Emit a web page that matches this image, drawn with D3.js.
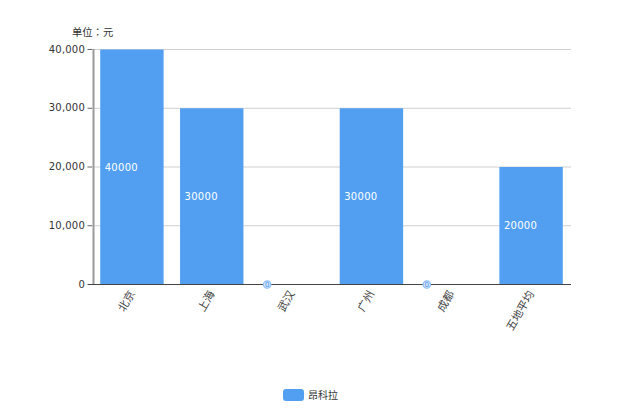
<!DOCTYPE html>
<html><head><meta charset="utf-8">
<script src="https://cdnjs.cloudflare.com/ajax/libs/d3/7.8.5/d3.min.js"></script>
<style>html,body{margin:0;padding:0;background:#fff}svg{display:block}text{font-family:"DejaVu Sans","Noto Sans CJK SC",sans-serif}</style>
</head><body><svg id="c" width="620" height="413"></svg>
<script>
const categories=["北京","上海","武汉","广州","成都","五地平均"];
const values=[40000,30000,0,30000,0,20000];
const yTicks=[0,10000,20000,30000,40000];
const seriesName="昂科拉";
const unitLabel="单位：元";
const color="#529ff2";
const svg=d3.select("#c");
const L=92,R=571,T=49.5,B=284.5;
const x=d3.scaleBand().domain(categories).range([L,R]);
const y=d3.scaleLinear().domain([0,40000]).range([B,T]);
const barW=63.4;
const fmt=d3.format(",");
// grid
svg.append("g").selectAll("line").data(yTicks.filter(d=>d>0)).join("line")
 .attr("x1",L).attr("x2",R).attr("y1",d=>y(d)).attr("y2",d=>y(d))
 .attr("stroke","#d0d0d0").attr("stroke-width",1);
// bars
const cx=d=>x(d)+x.bandwidth()/2;
svg.append("g").selectAll("rect").data(categories.map((c,i)=>({c,v:values[i]})).filter(d=>d.v>0)).join("rect")
 .attr("x",d=>cx(d.c)-barW/2).attr("width",barW).attr("y",d=>y(d.v)).attr("height",d=>B-y(d.v)).attr("fill",color);
// y axis
const ya=svg.append("g").attr("transform",`translate(${L},-0.5)`)
 .call(d3.axisLeft(y).tickValues(yTicks).tickFormat(fmt).tickSize(4).tickPadding(3));
ya.selectAll("path").attr("stroke","#999").attr("stroke-width",2).attr("d",`M1.5,${T}V${B}`);
ya.selectAll("line").attr("stroke","#666").attr("x2",-4.5);
ya.selectAll("text").attr("font-size",10).attr("fill","#333").attr("letter-spacing",.2).style("font-family",'"DejaVu Sans"');
// x axis line
svg.append("line").attr("x1",L-4).attr("x2",R).attr("y1",B).attr("y2",B).attr("stroke","#444");
// x labels
svg.append("g").selectAll("text").data(categories).join("text")
 .attr("transform",d=>`translate(${cx(d)},${B+7}) rotate(-60)`)
 .attr("text-anchor","end").attr("dy","0.35em").attr("font-size",11).attr("fill","#444").text(d=>d);
// value labels
svg.append("g").selectAll("text").data(categories.map((c,i)=>({c,v:values[i]})).filter(d=>d.v>0)).join("text")
 .attr("x",d=>cx(d.c)-barW/2+4.5).attr("y",d=>(y(d.v)+B)/2).attr("dy","0.35em")
 .attr("font-size",10).attr("fill","#fff").attr("letter-spacing",.3).style("font-family",'"DejaVu Sans"').text(d=>d.v);
// zero markers
const zero=svg.append("g").selectAll("g").data(categories.map((c,i)=>({c,v:values[i]})).filter(d=>d.v===0)).join("g")
 .attr("transform",d=>`translate(${x(d.c)+15.5},${y(d.v)})`);
zero.append("circle").attr("r",3.7).attr("fill","#d5e8fc").attr("stroke","#8fc0f7").attr("stroke-width",1.2);
zero.append("text").attr("text-anchor","middle").attr("dy","0.35em").attr("font-size",7).attr("fill","#4a90e2").style("font-family",'"DejaVu Sans"').text(d=>d.v);
// unit
svg.append("text").attr("x",72).attr("y",36).attr("font-size",10.3).attr("fill","#333").style("font-family",'"Noto Sans CJK TC"').text(unitLabel);
// legend
svg.append("rect").attr("x",283).attr("y",389).attr("width",21).attr("height",12).attr("rx",3).attr("fill",color);
svg.append("text").attr("x",308).attr("y",395).attr("dy","0.35em").attr("font-size",10).attr("fill","#333").text(seriesName);
</script></body></html>
